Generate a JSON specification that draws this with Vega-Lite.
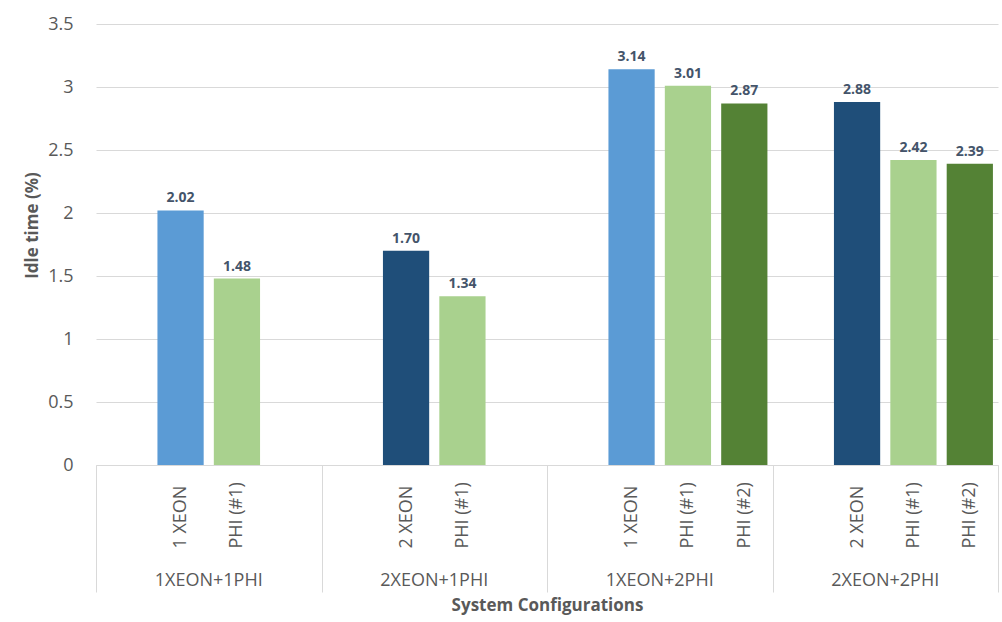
{
  "$schema": "https://vega.github.io/schema/vega-lite/v6.json",
  "width": 902,
  "height": 441,
  "autosize": {"type": "none"},
  "padding": {"left": 96, "top": 24, "right": 4, "bottom": 157},
  "background": "white",
  "config": {"font": "Open Sans", "view": {"stroke": null}},
  "data": {
    "values": [
      {"key": "1XEON+1PHI||0", "group": "1XEON+1PHI", "series": null, "value": null},
      {"key": "1XEON+1PHI|1 XEON|1", "group": "1XEON+1PHI", "series": "1 XEON", "value": 2.02},
      {"key": "1XEON+1PHI|PHI (#1)|2", "group": "1XEON+1PHI", "series": "PHI (#1)", "value": 1.48},
      {"key": "1XEON+1PHI||3", "group": "1XEON+1PHI", "series": null, "value": null},
      {"key": "2XEON+1PHI||0", "group": "2XEON+1PHI", "series": null, "value": null},
      {"key": "2XEON+1PHI|2 XEON|1", "group": "2XEON+1PHI", "series": "2 XEON", "value": 1.70},
      {"key": "2XEON+1PHI|PHI (#1)|2", "group": "2XEON+1PHI", "series": "PHI (#1)", "value": 1.34},
      {"key": "2XEON+1PHI||3", "group": "2XEON+1PHI", "series": null, "value": null},
      {"key": "1XEON+2PHI||0", "group": "1XEON+2PHI", "series": null, "value": null},
      {"key": "1XEON+2PHI|1 XEON|1", "group": "1XEON+2PHI", "series": "1 XEON", "value": 3.14},
      {"key": "1XEON+2PHI|PHI (#1)|2", "group": "1XEON+2PHI", "series": "PHI (#1)", "value": 3.01},
      {"key": "1XEON+2PHI|PHI (#2)|3", "group": "1XEON+2PHI", "series": "PHI (#2)", "value": 2.87},
      {"key": "2XEON+2PHI||0", "group": "2XEON+2PHI", "series": null, "value": null},
      {"key": "2XEON+2PHI|2 XEON|1", "group": "2XEON+2PHI", "series": "2 XEON", "value": 2.88},
      {"key": "2XEON+2PHI|PHI (#1)|2", "group": "2XEON+2PHI", "series": "PHI (#1)", "value": 2.42},
      {"key": "2XEON+2PHI|PHI (#2)|3", "group": "2XEON+2PHI", "series": "PHI (#2)", "value": 2.39}
    ]
  },
  "layer": [
    {
      "encoding": {
        "x": {
          "field": "key",
          "type": "nominal",
          "sort": null,
          "scale": {
            "domain": [
              "1XEON+1PHI||0", "1XEON+1PHI|1 XEON|1", "1XEON+1PHI|PHI (#1)|2", "1XEON+1PHI||3",
              "2XEON+1PHI||0", "2XEON+1PHI|2 XEON|1", "2XEON+1PHI|PHI (#1)|2", "2XEON+1PHI||3",
              "1XEON+2PHI||0", "1XEON+2PHI|1 XEON|1", "1XEON+2PHI|PHI (#1)|2", "1XEON+2PHI|PHI (#2)|3",
              "2XEON+2PHI||0", "2XEON+2PHI|2 XEON|1", "2XEON+2PHI|PHI (#1)|2", "2XEON+2PHI|PHI (#2)|3"
            ],
            "paddingInner": 0,
            "paddingOuter": 0
          },
          "axis": {
            "orient": "bottom",
            "title": null,
            "grid": false,
            "domainColor": "#D9D9D9",
            "domainWidth": 1,
            "tickBand": "extent",
            "tickSize": 127,
            "tickWidth": 1,
            "tickColor": {
              "condition": {"test": "datum.extra || indexof(datum.value, '|3') >= 0", "value": "#D9D9D9"},
              "value": "transparent"
            },
            "labelExpr": "split(datum.label, '|')[1]",
            "labelAngle": 270,
            "labelAlign": "left",
            "labelBaseline": "middle",
            "labelPadding": -44,
            "labelFontSize": 18,
            "labelColor": "#595959",
            "labelOverlap": false,
            "labelFlush": false,
            "labelBound": false
          }
        },
        "y": {
          "field": "value",
          "type": "quantitative",
          "scale": {"domain": [0, 3.5], "nice": false},
          "axis": {
            "values": [0, 0.5, 1, 1.5, 2, 2.5, 3, 3.5],
            "format": "~g",
            "domain": false,
            "ticks": false,
            "grid": true,
            "gridColor": "#D9D9D9",
            "gridWidth": 1,
            "labelPadding": 23,
            "labelFontSize": 18,
            "labelColor": "#595959",
            "title": "Idle time (%)",
            "titleFontSize": 17,
            "titleFontWeight": "bold",
            "titleColor": "#595959",
            "titleX": -64,
            "titleY": 201,
            "titleBaseline": "middle",
            "titleAngle": 270
          }
        }
      },
      "layer": [
        {
          "mark": {"type": "bar", "width": {"band": 0.82}},
          "encoding": {
            "color": {
              "field": "series",
              "type": "nominal",
              "scale": {
                "domain": ["1 XEON", "2 XEON", "PHI (#1)", "PHI (#2)"],
                "range": ["#5B9BD5", "#1F4E79", "#A9D18E", "#548235"]
              },
              "legend": null
            }
          }
        },
        {
          "mark": {"type": "text", "dy": -8, "baseline": "alphabetic", "fontSize": 14, "fontWeight": "bold", "color": "#44546A"},
          "encoding": {
            "text": {"field": "value", "type": "quantitative", "format": ".2f"}
          }
        }
      ]
    },
    {
      "mark": {"type": "rule", "opacity": 0},
      "encoding": {
        "x": {
          "field": "group",
          "type": "nominal",
          "sort": ["1XEON+1PHI", "2XEON+1PHI", "1XEON+2PHI", "2XEON+2PHI"],
          "scale": {"paddingInner": 0, "paddingOuter": 0},
          "axis": {
            "orient": "bottom",
            "domain": false,
            "ticks": false,
            "grid": false,
            "labelAngle": 0,
            "labelPadding": 106,
            "labelFontSize": 18,
            "labelColor": "#595959",
            "title": "System Configurations",
            "titleFontSize": 17,
            "titleFontWeight": "bold",
            "titleColor": "#595959",
            "titlePadding": 8
          }
        }
      }
    }
  ],
  "resolve": {"scale": {"x": "independent"}, "axis": {"x": "independent"}}
}
